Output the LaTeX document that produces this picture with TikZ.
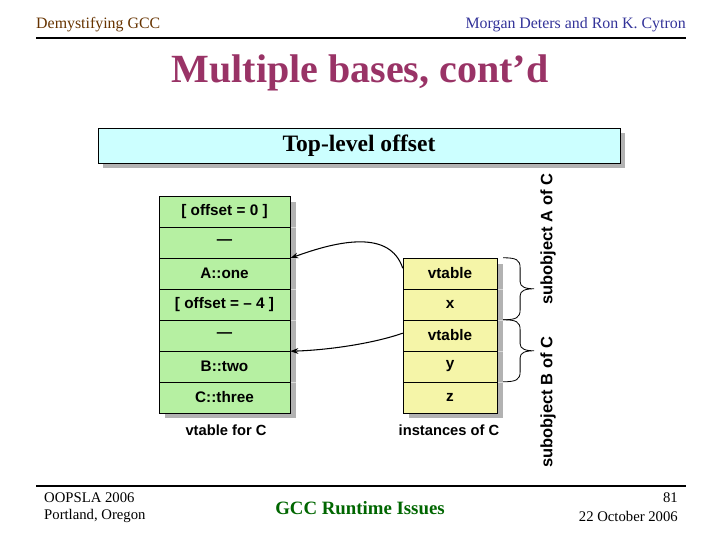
\documentclass[tikz,border=0pt]{standalone}
\usepackage{fontspec}
\setmainfont{Liberation Serif}
\setsansfont{Liberation Sans}
\usetikzlibrary{arrows.meta}
\definecolor{plum}{RGB}{153,51,102}
\definecolor{rust}{RGB}{102,51,0}
\definecolor{indigo}{RGB}{51,51,153}
\definecolor{forest}{RGB}{0,102,0}
\definecolor{mint}{RGB}{182,240,162}
\definecolor{lemon}{RGB}{245,245,168}
\definecolor{sky}{RGB}{204,255,255}
\tikzset{
  >={Stealth[length=2.4mm,width=1.7mm]},
  cell/.style={draw=black,fill=#1,minimum height=26.35pt,inner sep=0pt,
    font=\sffamily\bfseries\fontsize{13}{15}\selectfont},
  cell/.default=mint,
  caption/.style={font=\sffamily\bfseries\fontsize{12.5}{15}\selectfont},
  side/.style={rotate=90,font=\sffamily\bfseries\fontsize{14}{16}\selectfont},
  margin/.style={inner sep=0pt,font=\fontsize{13.5}{16}\selectfont},
  foot/.style={inner sep=0pt,font=\fontsize{12.5}{15}\selectfont},
  shade/.style={fill=black!30},
  link/.style={->,line width=0.9pt},
  % curly brace, 62 units tall, tip to the right
  pics/grip/.style={code={
    \draw[line width=0.7pt] (0,0) .. controls (13,0) and (17,2) .. (17,10) -- (17,24)
      .. controls (17,29) and (22,31) .. (31,31) .. controls (22,31) and (17,33) .. (17,38)
      -- (17,52) .. controls (17,60) and (13,62) .. (0,62);
  }},
}
\begin{document}
\begin{tikzpicture}[x=0.85pt,y=-0.85pt]
  \useasboundingbox (0,0) rectangle (720,540);
  % header
  \node[margin,text=rust,anchor=west] (hl) at (36,25) {Demystifying GCC};
  \node[margin,text=indigo,anchor=east] (hr) at (686,25) {Morgan Deters and Ron K. Cytron};
  \draw[line width=1.2pt] (36,38) -- (686,38);
  \node[text=plum,font=\bfseries\fontsize{34}{40}\selectfont] (title) at (360,73) {Multiple bases, cont’d};
  % top-level offset bar
  \fill[shade] (103,133) rectangle (625,168);
  \node[draw=black,fill=sky,minimum width=443.7pt,minimum height=29.75pt,inner sep=0pt,
    font=\bfseries\fontsize{20}{24}\selectfont] (top) at (359,145.5) {Top-level offset};
  % vtable for C
  \fill[shade] (165,202) rectangle (296,418);
  \foreach \y in {227,258,289,320,351,382} \draw[black!15] (290,\y) -- (296,\y);
  \foreach \t [count=\k] in {{[ offset = 0 ]},—,A::one,{[ offset = – 4 ]},—,B::two,C::three}
    \node[cell=mint,minimum width=111.35pt] (vt\k) at (224.5,180.5+31*\k) {\t};
  \node[caption] (vtcap) at (226,430) {vtable for C};
  % instances of C
  \fill[shade] (409,264) rectangle (503,418);
  \foreach \y in {289,320,351,382} \draw[black!15] (497,\y) -- (503,\y);
  \foreach \t [count=\k] in {vtable,x,vtable,y,z}
    \node[cell=lemon,minimum width=79.9pt] (obj\k) at (450,242.5+31*\k) {\t};
  \node[caption] (objcap) at (449,430) {instances of C};
  % vtable pointers
  \draw[link] ([yshift=4.5pt]obj1.west) .. controls (390,230) and (340,240) .. (vt2.south east);
  \draw[link] ([yshift=2pt]obj3.west) .. controls (375,343) and (330,350) .. (vt5.south east);
  % subobjects
  \pic at ([xshift=5pt]obj1.north east) {grip};
  \pic at ([xshift=5pt]obj3.north east) {grip};
  \node[side] (suba) at (548,239) {subobject A of C};
  \node[side] (subb) at (548,402) {subobject B of C};
  % footer
  \draw[line width=1.2pt] (36,486) -- (686,486);
  \node[foot,anchor=west] (venue) at (44,498) {OOPSLA 2006};
  \node[foot,anchor=west] (place) at (44,516) {Portland, Oregon};
  \node[text=forest,font=\bfseries\fontsize{16}{19}\selectfont] (topic) at (360,508) {GCC Runtime Issues};
  \node[foot,anchor=east] (page) at (678,498) {81};
  \node[foot,anchor=east] (date) at (678,516) {22 October 2006};
\end{tikzpicture}
\end{document}
